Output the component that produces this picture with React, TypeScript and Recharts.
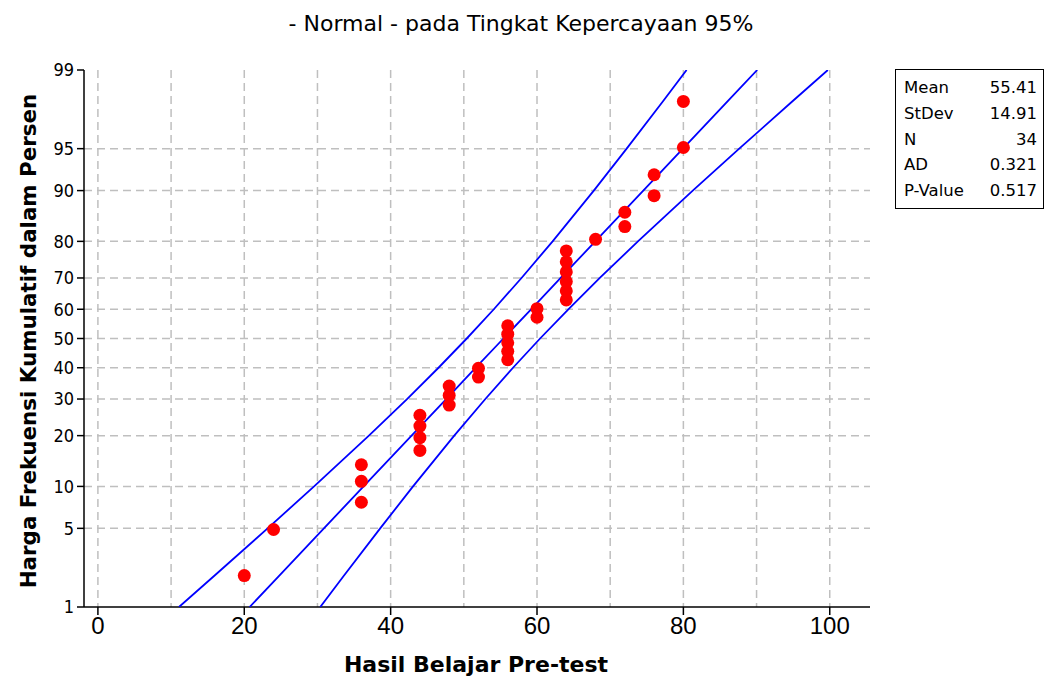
import React from 'react';
import { ComposedChart, Scatter, XAxis, YAxis, CartesianGrid } from 'recharts';

// Observed data (Hasil Belajar Pre-test) and their plotted cumulative percents
const xValues = [20, 24, 36, 36, 36, 44, 44, 44, 44, 48, 48, 48, 52, 52, 56, 56, 56, 56, 56, 60, 60, 64, 64, 64, 64, 64, 64, 68, 72, 72, 76, 76, 80, 80];
const pctValues = [2.0, 4.9, 7.8, 10.8, 13.7, 16.6, 19.5, 22.4, 25.3, 28.2, 31.1, 34.0, 36.9, 39.8, 42.7, 45.6, 48.5, 51.5, 54.4, 57.3, 60.2, 63.1, 66.0, 68.9, 71.8, 74.7, 77.6, 80.5, 83.4, 86.3, 89.2, 92.2, 95.1, 98.0];

// Fitted line and 95% confidence band (x read at given percents)
const linePct = [1, 2, 5, 10, 20, 30, 40, 50, 60, 70, 80, 90, 95, 98, 99];
const fitX = [20.73, 24.79, 30.88, 36.3, 42.86, 47.59, 51.63, 55.41, 59.19, 63.23, 67.96, 74.52, 79.94, 86.03, 90.09];
const lowerX = [11.08, 15.95, 23.19, 29.54, 37.03, 42.24, 46.54, 50.4, 54.1, 57.88, 62.13, 67.76, 72.25, 77.19, 80.44];
const upperX = [30.38, 33.63, 38.57, 43.06, 48.69, 52.94, 56.72, 60.42, 64.28, 68.58, 73.79, 81.28, 87.63, 94.87, 99.74];

const xTicks = [0, 20, 40, 60, 80, 100];
const xGrid = [0, 10, 20, 30, 40, 50, 60, 70, 80, 90, 100];
const yTickLabels = [1, 5, 10, 20, 30, 40, 50, 60, 70, 80, 90, 95, 99];
const yGridLabels = [5, 10, 20, 30, 40, 50, 60, 70, 80, 90, 95];

const statLabels = ['Mean', 'StDev', 'N', 'AD', 'P-Value'];
const statValues = ['55.41', '14.91', '34', '0.321', '0.517'];

// inverse standard normal CDF (Acklam)
function qnorm(p: number): number {
  const a = [-3.969683028665376e1, 2.209460984245205e2, -2.759285104469687e2, 1.38357751867269e2, -3.066479806614716e1, 2.506628277459239];
  const b = [-5.447609879822406e1, 1.615858368580409e2, -1.556989798598866e2, 6.680131188771972e1, -1.328068155288572e1];
  const c = [-7.784894002430293e-3, -3.223964580411365e-1, -2.400758277161838, -2.549732539343734, 4.374664141464968, 2.938163982698783];
  const d = [7.784695709041462e-3, 3.224671290700398e-1, 2.445134137142996, 3.754408661907416];
  const pl = 0.02425;
  if (p < pl) {
    const q = Math.sqrt(-2 * Math.log(p));
    return (((((c[0] * q + c[1]) * q + c[2]) * q + c[3]) * q + c[4]) * q + c[5]) / ((((d[0] * q + d[1]) * q + d[2]) * q + d[3]) * q + 1);
  }
  if (p > 1 - pl) {
    const q = Math.sqrt(-2 * Math.log(1 - p));
    return -(((((c[0] * q + c[1]) * q + c[2]) * q + c[3]) * q + c[4]) * q + c[5]) / ((((d[0] * q + d[1]) * q + d[2]) * q + d[3]) * q + 1);
  }
  const q = p - 0.5;
  const r = q * q;
  return (((((a[0] * r + a[1]) * r + a[2]) * r + a[3]) * r + a[4]) * r + a[5]) * q / (((((b[0] * r + b[1]) * r + b[2]) * r + b[3]) * r + b[4]) * r + 1);
}

const pointData = xValues.map((x, i) => ({ x, z: qnorm(pctValues[i] / 100) }));
const fitData = linePct.map((p, i) => ({ x: fitX[i], z: qnorm(p / 100) }));
const lowerData = linePct.map((p, i) => ({ x: lowerX[i], z: qnorm(p / 100) }));
const upperData = linePct.map((p, i) => ({ x: upperX[i], z: qnorm(p / 100) }));
const yTicks = yTickLabels.map((p) => qnorm(p / 100));
const yGrid = yGridLabels.map((p) => qnorm(p / 100));
const zMin = qnorm(0.01);
const zMax = qnorm(0.99);

const yFmt = (v: number) => {
  let best = yTickLabels[0];
  let bd = Infinity;
  yTickLabels.forEach((p) => {
    const d = Math.abs(qnorm(p / 100) - v);
    if (d < bd) { bd = d; best = p; }
  });
  return String(best);
};

const condFont = '"DejaVu Sans Condensed", "DejaVu Sans", sans-serif';
const wideFont = '"DejaVu Sans", sans-serif';
const numFont = '"Liberation Sans", Arial, sans-serif';
const blue = '#0000ff';
const noShape = () => <g />;
const dot = (props: any) => <circle cx={props.cx} cy={props.cy} r={6.5} fill="#ff0000" />;

export default function App() {
  return (
    <div style={{ position: 'absolute', left: 0, top: 0, width: 1045, height: 681, background: '#fff', fontFamily: wideFont }}>
      <ComposedChart width={1045} height={681} margin={{ top: 70, right: 175, bottom: 24, left: 24 }}>
        <CartesianGrid
          stroke="#bfbfbf"
          strokeWidth={1.5}
          strokeDasharray="8 5"
          verticalValues={xGrid}
          horizontalValues={yGrid}
        />
        <XAxis
          dataKey="x"
          type="number"
          domain={[-1.9, 105.5]}
          ticks={xTicks}
          allowDataOverflow
          height={50}
          tickSize={8}
          tick={{ fill: '#000', fontSize: 24, fontFamily: numFont }}
          axisLine={{ stroke: '#000', strokeWidth: 1.5 }}
          tickLine={{ stroke: '#000', strokeWidth: 1.5 }}
        />
        <XAxis
          xAxisId="top"
          orientation="top"
          type="number"
          domain={[-1.9, 105.5]}
          height={0}
          tick={false}
          tickLine={false}
          axisLine={{ stroke: '#000', strokeWidth: 1.5 }}
        />
        <YAxis
          dataKey="z"
          type="number"
          domain={[zMin, zMax]}
          ticks={yTicks}
          allowDataOverflow
          width={60}
          tickSize={7}
          tickFormatter={yFmt}
          tick={{ fill: '#000', fontSize: 18, fontFamily: condFont, dx: -1 }}
          axisLine={{ stroke: '#000', strokeWidth: 1.5 }}
          tickLine={{ stroke: '#000', strokeWidth: 1.5 }}
        />
        <YAxis
          yAxisId="right"
          orientation="right"
          type="number"
          domain={[zMin, zMax]}
          width={0}
          tick={false}
          tickLine={false}
          axisLine={{ stroke: '#000', strokeWidth: 1.5 }}
        />
        <Scatter data={lowerData} line={{ stroke: blue, strokeWidth: 1.8 }} shape={noShape} isAnimationActive={false} />
        <Scatter data={fitData} line={{ stroke: blue, strokeWidth: 1.8 }} shape={noShape} isAnimationActive={false} />
        <Scatter data={upperData} line={{ stroke: blue, strokeWidth: 1.8 }} shape={noShape} isAnimationActive={false} />
        <Scatter data={pointData} fill="#ff0000" shape={dot} isAnimationActive={false} />
      </ComposedChart>

      <div style={{ position: 'absolute', left: 521, top: 23, transform: 'translate(-50%, -50%)', fontSize: 22, whiteSpace: 'nowrap', color: '#000' }}>
        - Normal - pada Tingkat Kepercayaan 95%
      </div>
      <div style={{ position: 'absolute', left: 476, top: 664, transform: 'translate(-50%, -50%)', fontSize: 22, fontWeight: 'bold', whiteSpace: 'nowrap', color: '#000' }}>
        Hasil Belajar Pre-test
      </div>
      <div style={{ position: 'absolute', left: 28, top: 341, transform: 'translate(-50%, -50%) rotate(-90deg)', fontSize: 21.4, fontWeight: 'bold', whiteSpace: 'nowrap', color: '#000' }}>
        Harga Frekuensi Kumulatif dalam Persen
      </div>
      <div style={{ position: 'absolute', left: 895, top: 69, width: 149, height: 140, border: '1.5px solid #000', boxSizing: 'border-box', fontSize: 16.5 }}>
        {statLabels.map((l, i) => (
          <div key={l} style={{ position: 'absolute', left: 8, right: 6, top: 6 + i * 25.8, height: 24, lineHeight: '24px', display: 'flex', justifyContent: 'space-between' }}>
            <span>{l}</span>
            <span>{statValues[i]}</span>
          </div>
        ))}
      </div>
    </div>
  );
}
